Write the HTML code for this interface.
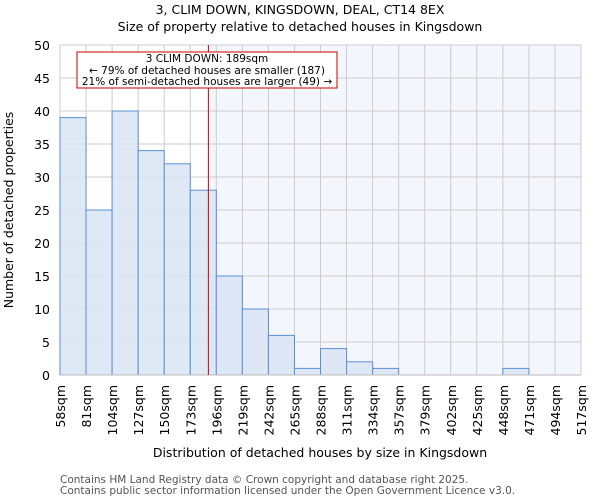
<!DOCTYPE html>
<html><head><meta charset="utf-8"><style>
body{margin:0;background:#fff;font-family:"DejaVu Sans","Liberation Sans",sans-serif}
</style></head><body>
<svg id="c" width="600" height="500" xmlns="http://www.w3.org/2000/svg" font-family="DejaVu Sans, Liberation Sans, sans-serif">
<text x="300" y="14" text-anchor="middle" font-size="12.5">3, CLIM DOWN, KINGSDOWN, DEAL, CT14 8EX</text>
<text x="300" y="31" text-anchor="middle" font-size="12.5">Size of property relative to detached houses in Kingsdown</text>
<g id="plot"></g>
<text x="320" y="457" text-anchor="middle" font-size="12.5">Distribution of detached houses by size in Kingsdown</text>
<text transform="translate(13,210) rotate(-90)" text-anchor="middle" font-size="12.5">Number of detached properties</text>
<text x="60" y="483" font-size="10.5" fill="#555">Contains HM Land Registry data © Crown copyright and database right 2025.</text>
<text x="60" y="494" font-size="10.5" fill="#555">Contains public sector information licensed under the Open Government Licence v3.0.</text>
</svg>
<script>
const categories=["58sqm","81sqm","104sqm","127sqm","150sqm","173sqm","196sqm","219sqm","242sqm","265sqm","288sqm","311sqm","334sqm","357sqm","379sqm","402sqm","425sqm","448sqm","471sqm","494sqm","517sqm"];
const counts=[39,25,40,34,32,28,15,10,6,1,4,2,1,0,0,0,0,1,0,0];
const yTicks=[0,5,10,15,20,25,30,35,40,45,50];
const propertySize=189;
const binStart=58, binWidth=23;
const NS="http://www.w3.org/2000/svg";
const X0=60,X1=581,Y0=375,Y1=45,YMAX=50;
const nb=counts.length;
const bw=(X1-X0)/nb;
const xb=i=>X0+i*bw;
const xv=v=>X0+(v-binStart)/binWidth*bw;
const y=v=>Y0-(v/YMAX)*(Y0-Y1);
const g=document.getElementById('plot');
function mk(t,a){const e=document.createElementNS(NS,t);for(const k in a)e.setAttribute(k,a[k]);g.appendChild(e);return e;}
const lx=xv(propertySize);
let r=mk('rect',{x:lx,y:Y1,width:X1-lx,height:Y0-Y1,fill:'#f3f6fd'});


for(let i=0;i<=nb;i++){let l=mk('line',{x1:xb(i),x2:xb(i),y1:Y1,y2:Y0,stroke:'#cccccc'});

}
yTicks.forEach(t=>{let l=mk('line',{x1:X0,x2:X1,y1:y(t),y2:y(t),stroke:'#cccccc'});


let tx=mk('text',{x:X0-10,y:y(t)+5,'text-anchor':'end','font-size':12.5});tx.textContent=t;

});
counts.forEach((c,i)=>{if(c<=0)return;let b=mk('rect',{x:xb(i),y:y(c),width:bw,height:Y0-y(c),fill:'#dbe5f4','fill-opacity':0.9,stroke:'#5b8fd6','stroke-width':1});

});
let ax=mk('line',{x1:X0,x2:X1,y1:Y0,y2:Y0,stroke:'#bbb'});


categories.forEach((c,i)=>{let t=mk('text',{transform:`translate(${xb(i)+5},${Y0+10}) rotate(-90)`,'text-anchor':'end','font-size':12.5});t.textContent=c;

});
let rl=mk('line',{x1:lx,x2:lx,y1:Y1,y2:Y0,stroke:'#cc0000','stroke-width':1});


let box=mk('rect',{x:77,y:52,width:260,height:36,fill:'#fff',stroke:'#cc0000'});


[["3 CLIM DOWN: 189sqm",62],["← 79% of detached houses are smaller (187)",74],["21% of semi-detached houses are larger (49) →",85]].forEach(([s,yy])=>{let t=mk('text',{x:207,y:yy,'text-anchor':'middle','font-size':10.5});t.textContent=s;

});
</script>
</body></html>
